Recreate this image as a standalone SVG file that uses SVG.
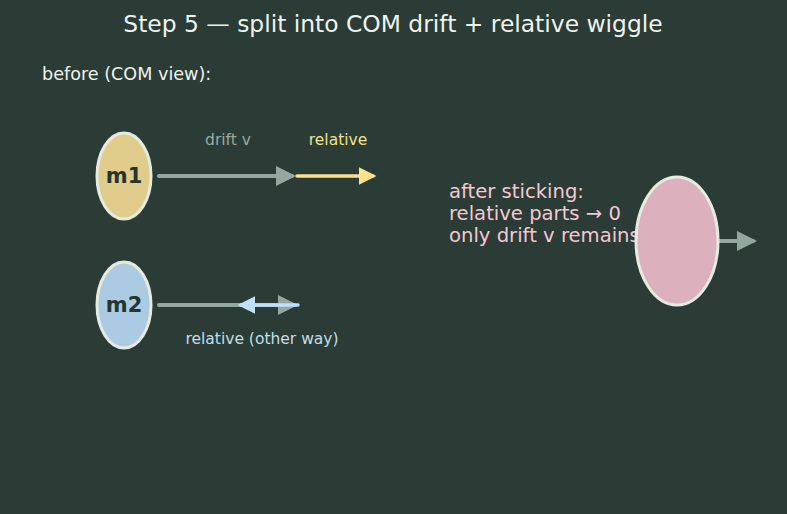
<svg xmlns="http://www.w3.org/2000/svg" width="787" height="514" viewBox="0 0 787 514">
<defs>
<style>
text{font-family:"DejaVu Sans","Liberation Sans",sans-serif}
.title{font-size:23.4px;fill:#eef3ee;text-anchor:middle}
.lbl{font-size:15.5px;text-anchor:middle}
.node{stroke:#e6eadf;stroke-width:3}
.nt{font-size:21px;font-weight:bold;fill:#24352f;text-anchor:middle}
.drift{stroke:#94a89f;stroke-width:4;fill:none;stroke-linecap:round}
</style>
<marker id="ahG" markerWidth="5" markerHeight="5" refX="4" refY="2.5" orient="auto" markerUnits="strokeWidth"><path d="M0,0 L5,2.5 L0,5 Z" fill="#94a89f"/></marker>
<marker id="ahY" markerWidth="5" markerHeight="5" refX="4" refY="2.5" orient="auto" markerUnits="strokeWidth"><path d="M0,0 L5,2.5 L0,5 Z" fill="#ffe08c"/></marker>
<marker id="ahB" markerWidth="5" markerHeight="5" refX="4" refY="2.5" orient="auto" markerUnits="strokeWidth"><path d="M0,0 L5,2.5 L0,5 Z" fill="#bfe0ff"/></marker>
</defs>
<rect width="787" height="514" fill="#2b3b35"/>
<text class="title" x="393" y="32">Step 5 — split into COM drift + relative wiggle</text>
<text x="42" y="80" font-size="17.6" fill="#eef3ee">before (COM view):</text>
<g id="labels">
<text class="lbl" x="228" y="145" fill="#97a9a0">drift v</text>
<text class="lbl" x="338" y="145" fill="#f2e08c">relative</text>
<text class="lbl" x="262" y="344" fill="#c6dce8">relative (other way)</text>
<text x="449" y="198" font-size="19.6" fill="#f4c8d2">after sticking:</text>
<text x="449" y="220" font-size="19.6" fill="#f4c8d2">relative parts → 0</text>
<text x="449" y="242" font-size="19.6" fill="#f4c8d2">only drift v remains</text>
</g>
<g id="connectors">
<line class="drift" x1="159" y1="176" x2="292" y2="176" marker-end="url(#ahG)"/>
<line x1="297" y1="176" x2="373" y2="176" stroke="#ffe08c" stroke-width="3.5" stroke-linecap="round" marker-end="url(#ahY)"/>
<line class="drift" x1="159" y1="305" x2="294" y2="305" marker-end="url(#ahG)"/>
<line x1="298" y1="305" x2="241" y2="305" stroke="#bfe0ff" stroke-width="3.5" stroke-linecap="round" marker-end="url(#ahB)"/>
<line class="drift" x1="718" y1="241" x2="753" y2="241" marker-end="url(#ahG)"/>
</g>
<g id="m1">
<ellipse class="node" cx="124" cy="176" rx="27" ry="43" fill="#e0cd8c"/>
<text class="nt" x="124" y="183">m1</text>
</g>
<g id="m2">
<ellipse class="node" cx="124" cy="305" rx="27" ry="43" fill="#abcbe2"/>
<text class="nt" x="124" y="312">m2</text>
</g>
<g id="merged">
<ellipse class="node" cx="677" cy="241" rx="41" ry="64" fill="#dcb0bd"/>
</g>
</svg>
